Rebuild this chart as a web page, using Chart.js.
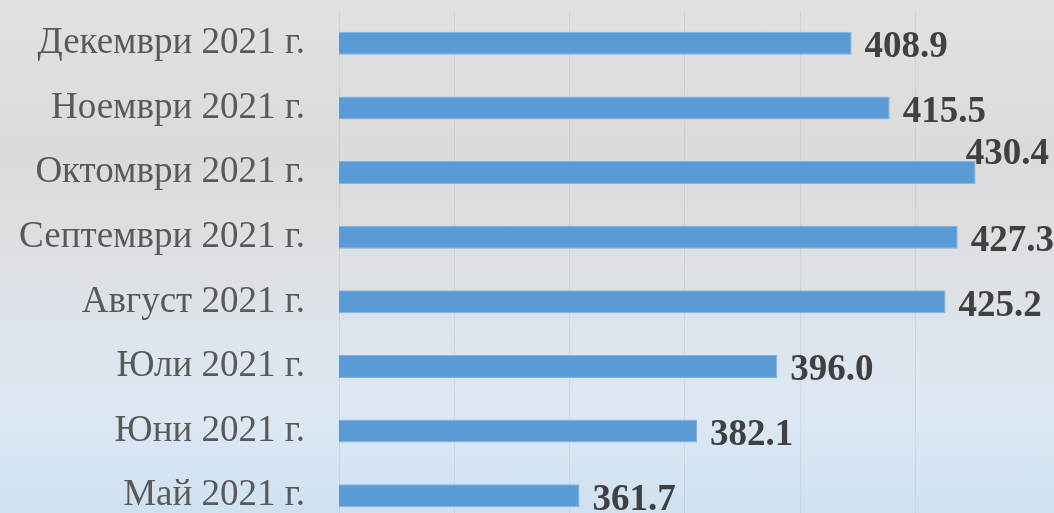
<!DOCTYPE html>
<html>
<head>
<meta charset="utf-8">
<script src="https://cdn.jsdelivr.net/npm/chart.js@4.4.0/dist/chart.umd.min.js"></script>
<style>
  html, body { margin: 0; padding: 0; overflow: hidden; }
  #wrap {
    width: 1054px; height: 513px; overflow: hidden; position: relative;
    background: linear-gradient(to bottom, #e1e1e1 0%, #dbdbdb 30%, #dde1e6 55%, #dde8f3 80%, #cfe1f1 100%);
  }
  #wrap canvas { position: absolute; left: 0; top: 0; }
</style>
</head>
<body>
<div id="wrap"><canvas id="chart" width="1054" height="540"></canvas></div>
<script>
const months = [
  "Декември 2021 г.",
  "Ноември 2021 г.",
  "Октомври 2021 г.",
  "Септември 2021 г.",
  "Август 2021 г.",
  "Юли 2021 г.",
  "Юни 2021 г.",
  "Май 2021 г."
];
const values = [408.9, 415.5, 430.4, 427.3, 425.2, 396.0, 382.1, 361.7];

const serif = '"Liberation Serif", "Times New Roman", serif';

// value labels at bar ends; if it does not fit, lift it above the bar
const valueLabels = {
  id: "valueLabels",
  afterDatasetsDraw(chart) {
    const ctx = chart.ctx;
    const area = chart.chartArea;
    ctx.save();
    ctx.font = "bold 37px " + serif;
    ctx.fillStyle = "#404040";
    ctx.textBaseline = "alphabetic";
    chart.getDatasetMeta(0).data.forEach((bar, i) => {
      const text = values[i].toFixed(1);
      const w = ctx.measureText(text).width;
      let x = bar.x + 13;
      let y = bar.y + 14;
      if (x + w > area.right) {
        x = area.right - 5 - w;
        y = bar.y - 9;
      }
      ctx.fillText(text, x, y);
    });
    ctx.restore();
  }
};

const ctx = document.getElementById("chart").getContext("2d");
new Chart(ctx, {
  type: "bar",
  data: {
    labels: months,
    datasets: [{
      data: values,
      backgroundColor: "#5b9bd5",
      borderColor: "#7fb2e0",
      borderWidth: 1,
      barPercentage: 0.355,
      categoryPercentage: 1
    }]
  },
  options: {
    indexAxis: "y",
    responsive: false,
    animation: false,
    layout: { padding: { top: 11, bottom: 12, left: 0, right: 0 } },
    plugins: {
      legend: { display: false },
      tooltip: { enabled: false }
    },
    scales: {
      x: {
        type: "linear",
        min: 320,
        max: 444,
        afterBuildTicks: s => { s.ticks = s.ticks.filter(t => t.value % 20 === 0); },
        ticks: { display: false, stepSize: 20 },
        grid: { color: "rgba(130,130,130,0.14)", lineWidth: 1, drawTicks: false },
        border: { display: false },
        afterFit: s => { s.height = 0; s.paddingLeft = 0; s.paddingRight = 0; }
      },
      y: {
        grid: { display: false, drawTicks: false },
        border: { display: false },
        ticks: { color: "#595959", font: { family: serif, size: 37 }, padding: 34 },
        afterFit: s => { s.width = 339; s.paddingTop = 0; s.paddingBottom = 0; }
      }
    }
  },
  plugins: [valueLabels]
});
</script>
</body>
</html>
